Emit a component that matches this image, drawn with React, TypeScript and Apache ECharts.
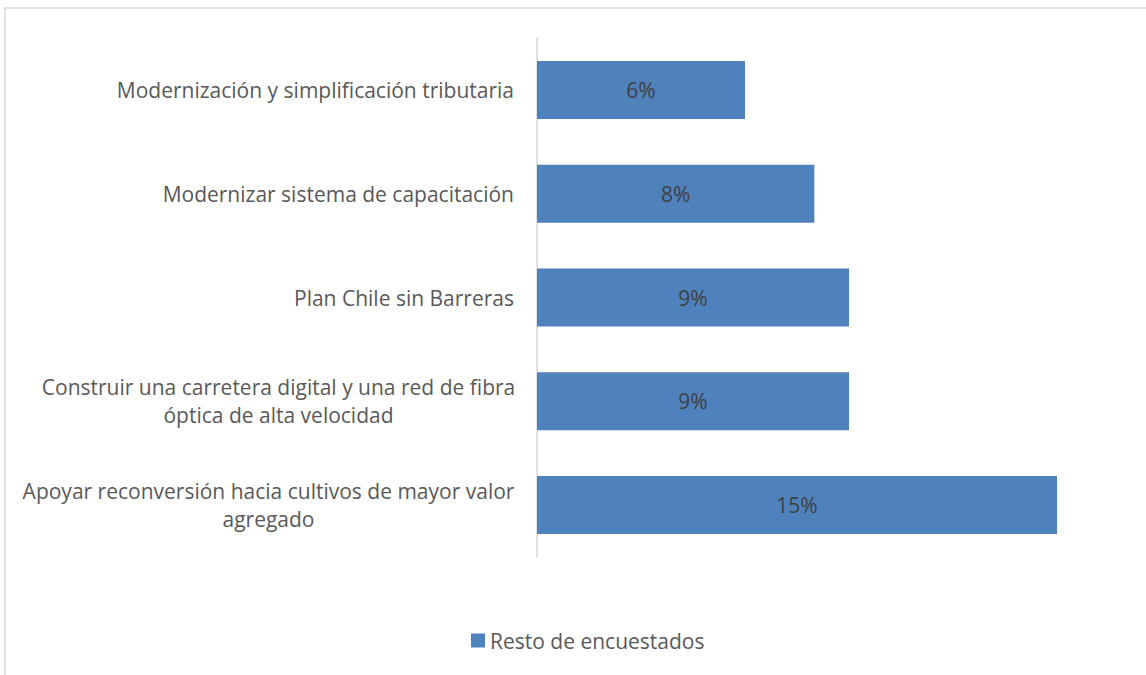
import React, { useEffect, useRef } from "react";
import * as echarts from "echarts";

const categories = [
  "Modernización y simplificación tributaria",
  "Modernizar sistema de capacitación",
  "Plan Chile sin Barreras",
  "Construir una carretera digital y una red de fibra\nóptica de alta velocidad",
  "Apoyar reconversión hacia cultivos de mayor valor\nagregado",
];
const values = [6, 8, 9, 9, 15];
const seriesName = "Resto de encuestados";

const FONT = "'Open Sans', sans-serif";
const FS = 21;

export default function App() {
  const ref = useRef<HTMLDivElement>(null);
  useEffect(() => {
    const chart = echarts.init(ref.current!, undefined, { renderer: "svg" });
    const base = { color: "#595959", fontSize: FS, fontFamily: FONT, lineHeight: 28 };
    chart.setOption({
      animation: false,
      backgroundColor: "#ffffff",
      textStyle: { fontFamily: FONT },
      graphic: [
        {
          type: "rect",
          shape: { x: 5, y: 8, width: 1160, height: 700 },
          style: { fill: "none", stroke: "#d9d9d9", lineWidth: 1.5 },
          silent: true,
        },
      ],
      grid: { left: 537, right: 89, top: 38, bottom: 118 },
      xAxis: {
        type: "value",
        min: 0,
        max: 15,
        show: false,
        splitLine: { show: false },
      },
      yAxis: {
        type: "category",
        inverse: true,
        data: categories,
        axisLine: { show: true, lineStyle: { color: "#d9d9d9", width: 1.5 } },
        axisTick: { show: false },
        axisLabel: {
          margin: 23,
          ...base,
          formatter: (v: string, i: number) => {
            if (v.includes("\n")) {
              const key = i === 3 ? "b" : "a";
              return v
                .split("\n")
                .map((l) => `{${key}|${l}}`)
                .join("\n");
            }
            return `{r|${v}}`;
          },
          rich: {
            a: { ...base, width: 491, align: "center" },
            b: { ...base, width: 471, align: "center" },
            r: { ...base, align: "right" },
          },
        },
      },
      legend: {
        bottom: 19,
        left: 466,
        itemWidth: 14,
        itemHeight: 14,
        icon: "rect",
        itemGap: 6,
        textStyle: { color: "#595959", fontSize: FS, fontFamily: FONT },
        data: [seriesName],
      },
      series: [
        {
          name: seriesName,
          type: "bar",
          data: values,
          barWidth: 58,
          itemStyle: { color: "#4f81bd" },
          label: {
            show: true,
            position: "inside",
            formatter: "{c}%",
            color: "#404040",
            fontSize: FS,
            fontFamily: FONT,
          },
        },
      ],
    });
    return () => chart.dispose();
  }, []);
  return (
    <div
      ref={ref}
      style={{ position: "fixed", left: 0, top: 0, width: 1146, height: 675 }}
    />
  );
}
